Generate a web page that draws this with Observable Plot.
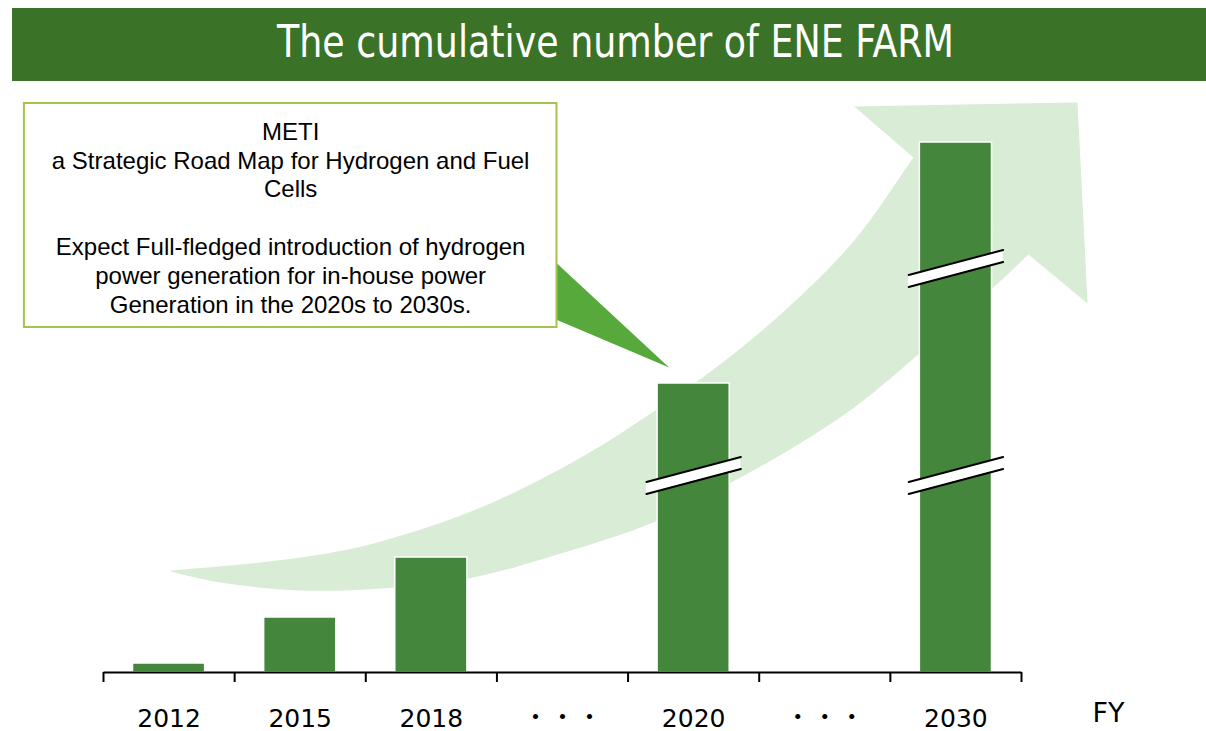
<!DOCTYPE html>
<html><head><meta charset="utf-8">
<script src="https://cdn.jsdelivr.net/npm/d3@7"></script>
<script src="https://cdn.jsdelivr.net/npm/@observablehq/plot@0.6"></script>
<style>
html,body{margin:0;padding:0;width:1206px;height:731px;overflow:hidden;background:#fff;}
#banner{position:absolute;left:12px;top:8px;width:1194px;height:73px;background:#3a7228;color:#fff;
 font-family:"DejaVu Sans Condensed","DejaVu Sans",sans-serif;font-size:45px;line-height:67px;text-align:center;}
#banner span{display:inline-block;white-space:nowrap;transform-origin:50% 50%;margin-left:14px;}
#chart{position:absolute;left:0;top:81px;}
</style></head><body>
<div id="banner"><span id="title">The cumulative number of ENE FARM</span></div>
<div id="chart"></div>
<script>
// categories on the x axis (the "・・・" slots are gaps)
const categories = ["2012", "2015", "2018", "・・・", "2020", "・・・", "2030"];
// bars (values in drawn units; the axis is broken for 2020 and 2030)
const years = ["2012", "2015", "2018", "2020", "2030"];
const values = [9, 55, 115, 289, 530];
// axis-break marks
const breakYears = ["2020", "2030", "2030"];
const breakLevels = [197, 197, 404];
// big background arrow (x in category slots, y in value units)
const arrowUpperX = [0.511,1.122,1.656,2.115,2.878,3.641,4.229,4.710,5.221,5.725,6.176,6.328,7.206];
const arrowUpperY = [102,109,118,131,165,215,264,309,365,432,515,543,438];
const arrowLowerX = [7.053,6.786,6.221,5.725,5.221,4.771,4.229,3.389,2.779,2.115,1.504,0.893,0.511];
const arrowLowerY = [418,385,319,265,222,189,152,115,94,84,82,90,101];
const arrowHeadX = [6.176,5.725,7.427,7.504,7.053];
const arrowHeadY = [515,566,570,369,418];
// callout box and pointer
const calloutBox = [{x1: -0.603, x2: 3.458, y1: 345, y2: 569}];
const pointerX = [3.45, 3.45, 4.313];
const pointerY = [410, 353, 305];
const calloutText = "METI\na Strategic Road Map for Hydrogen and Fuel\nCells\n\nExpect Full-fledged introduction of hydrogen\npower generation for in-house power\nGeneration in the 2020s to 2030s.";
const axisTitle = "FY";

// fit the title to the reference width
const t = document.getElementById("title");
t.style.transform = `scaleX(${677 / t.getBoundingClientRect().width})`;

const bars = years.map((y, i) => ({year: y, idx: categories.indexOf(y), value: values[i]}));
const bodyPts = [
  ...arrowUpperX.map((x, i) => ({x, y: arrowUpperY[i]})),
  ...arrowLowerX.map((x, i) => ({x, y: arrowLowerY[i]}))
];
const headPts = arrowHeadX.map((x, i) => ({x, y: arrowHeadY[i]}));
const pointerPts = pointerX.map((x, i) => ({x, y: pointerY[i]}));
const breakPts = breakYears.flatMap((y, k) => {
  const xc = categories.indexOf(y) + 0.5, c = breakLevels[k];
  return [
    {id: k, x: xc - 0.36, lo: c - 12.5 - 6, hi: c - 12.5 + 6},
    {id: k, x: xc + 0.36, lo: c + 12.5 - 6, hi: c + 12.5 + 6}
  ];
});
const labelSlots = categories.map((c, i) => ({c, i}));
const ticks = d3.range(categories.length + 1).map(i => ({i}));
const barHalf = 0.275;
const arrowFill = "#d9ecd5";

const plot = Plot.plot({
  width: 1206, height: 650,
  marginLeft: 103, marginRight: 185, marginTop: 0, marginBottom: 59,
  x: {domain: [0, categories.length], axis: null},
  y: {domain: [0, 591], axis: null},
  style: {background: "transparent", overflow: "visible"},
  marks: [
    Plot.line(bodyPts, {x: "x", y: "y", fill: arrowFill, stroke: "none", curve: "catmull-rom"}),
    Plot.line(headPts, {x: "x", y: "y", fill: arrowFill, stroke: "none", curve: "linear"}),
    Plot.line(pointerPts, {x: "x", y: "y", fill: "#57a93b", stroke: "none", curve: "linear"}),
    Plot.rect(calloutBox, {x1: "x1", x2: "x2", y1: "y1", y2: "y2", fill: "white", stroke: "#a3c54e", strokeWidth: 2}),
    Plot.text([calloutText], {x: () => 1.427, y: () => 360, text: d => d, lineAnchor: "bottom", lineHeight: 1.2,
      fontSize: 24, fontFamily: "Liberation Sans, Arial, sans-serif", fill: "#000"}),
    Plot.rect(bars, {x1: d => d.idx + 0.5 - barHalf, x2: d => d.idx + 0.5 + barHalf, y1: d => 0, y2: "value",
      fill: "#45863d", stroke: "white", strokeWidth: 1.5}),
    Plot.areaY(breakPts, {x: "x", y1: "lo", y2: "hi", z: "id", fill: "white", curve: "linear"}),
    Plot.line(breakPts, {x: "x", y: "hi", z: "id", stroke: "black", strokeWidth: 2}),
    Plot.line(breakPts, {x: "x", y: "lo", z: "id", stroke: "black", strokeWidth: 2}),
    Plot.ruleX(ticks, {x: "i", y1: d => 0, y2: d => -10, stroke: "black", strokeWidth: 2}),
    Plot.link([{a: 0, b: categories.length}], {x1: "a", x2: "b", y1: d => 0, y2: d => 0, stroke: "black", strokeWidth: 2}),
    Plot.text(labelSlots.filter(d => d.c !== "・・・"), {x: d => d.i + 0.5, y: d => 0, dy: 54, text: "c", lineAnchor: "bottom",
      fontSize: 25, fontFamily: "DejaVu Sans, sans-serif", fill: "#000"}),
    Plot.text(labelSlots.filter(d => d.c === "・・・"), {x: d => d.i + 0.5, y: d => 0, dy: 51, dx: 3.5, text: "c", lineAnchor: "bottom",
      fontSize: 20, fontWeight: "bold", fontFamily: "Noto Sans CJK JP, sans-serif", fill: "#000"}),
    Plot.text([axisTitle], {x: () => 7.664, y: () => 0, dy: 49, text: d => d, lineAnchor: "bottom",
      fontSize: 27, fontFamily: "DejaVu Sans, sans-serif", fill: "#000"})
  ]
});
d3.select(plot).selectAll("text").filter(function() { return this.textContent === "・・・"; })
  .attr("letter-spacing", 7);
document.getElementById("chart").appendChild(plot);
</script>
</body></html>
